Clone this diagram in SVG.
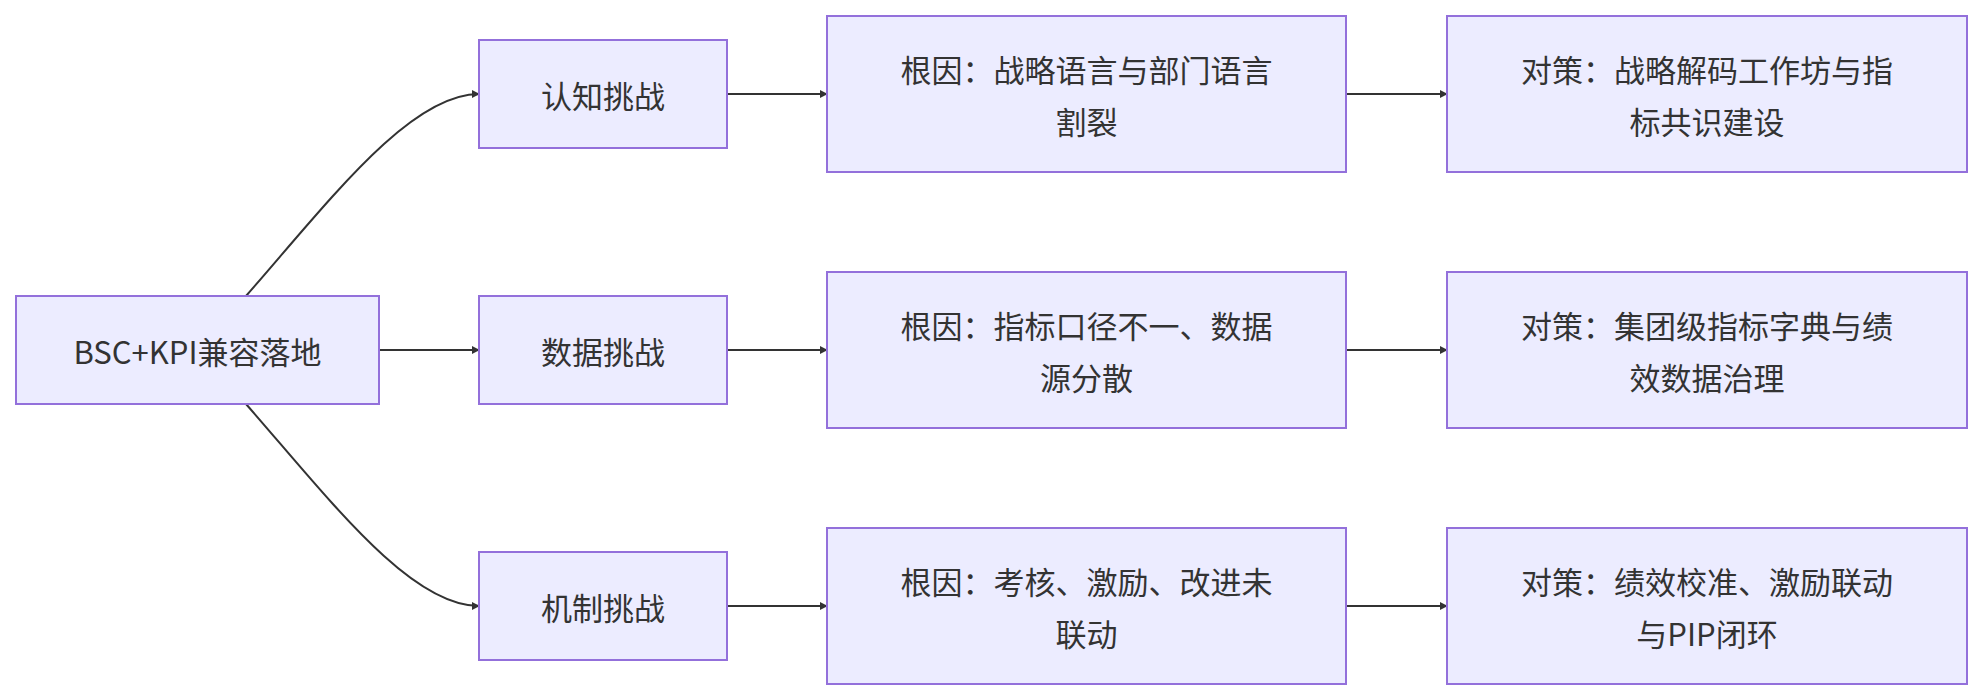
<svg xmlns="http://www.w3.org/2000/svg" width="1982" height="700" viewBox="0 0 1982 700">
<defs>
<marker id="ah" viewBox="0 0 10 10" refX="9" refY="5" markerWidth="8" markerHeight="8" markerUnits="userSpaceOnUse" orient="auto"><path d="M0,0 L10,5 L0,10 z" fill="#333"/></marker>
<style>
rect{fill:#ECECFF;stroke:#9370DB;stroke-width:2}
text{font-family:"Noto Sans CJK SC","Liberation Sans",sans-serif;font-size:31px;fill:#333;text-anchor:middle;dominant-baseline:central}
.e{fill:none;stroke:#333;stroke-width:2;marker-end:url(#ah)}
</style>
</defs>
<rect width="1982" height="700" style="fill:#fff;stroke:none"/>
<g id="edges">
<path class="e" d="M246,296 C330,200 410,94 479,94"/>
<path class="e" d="M379,350 L479,350"/>
<path class="e" d="M246,404 C330,500 410,606 479,606"/>
<path class="e" d="M727,94 L827,94"/>
<path class="e" d="M727,350 L827,350"/>
<path class="e" d="M727,606 L827,606"/>
<path class="e" d="M1346,94 L1447,94"/>
<path class="e" d="M1346,350 L1447,350"/>
<path class="e" d="M1346,606 L1447,606"/>
</g>
<g id="root"><rect x="16" y="296" width="363" height="108"/><text x="197.5" y="350">BSC+KPI兼容落地</text></g>
<g id="c1"><rect x="479" y="40" width="248" height="108"/><text x="603" y="94">认知挑战</text></g>
<g id="c2"><rect x="479" y="296" width="248" height="108"/><text x="603" y="350">数据挑战</text></g>
<g id="c3"><rect x="479" y="552" width="248" height="108"/><text x="603" y="606">机制挑战</text></g>
<g id="r1"><rect x="827" y="16" width="519" height="156"/><text x="1086.5" y="68">根因：战略语言与部门语言</text><text x="1086.5" y="120">割裂</text></g>
<g id="r2"><rect x="827" y="272" width="519" height="156"/><text x="1086.5" y="324">根因：指标口径不一、数据</text><text x="1086.5" y="376">源分散</text></g>
<g id="r3"><rect x="827" y="528" width="519" height="156"/><text x="1086.5" y="580">根因：考核、激励、改进未</text><text x="1086.5" y="632">联动</text></g>
<g id="s1"><rect x="1447" y="16" width="520" height="156"/><text x="1707" y="68">对策：战略解码工作坊与指</text><text x="1707" y="120">标共识建设</text></g>
<g id="s2"><rect x="1447" y="272" width="520" height="156"/><text x="1707" y="324">对策：集团级指标字典与绩</text><text x="1707" y="376">效数据治理</text></g>
<g id="s3"><rect x="1447" y="528" width="520" height="156"/><text x="1707" y="580">对策：绩效校准、激励联动</text><text x="1707" y="632">与PIP闭环</text></g>
</svg>
